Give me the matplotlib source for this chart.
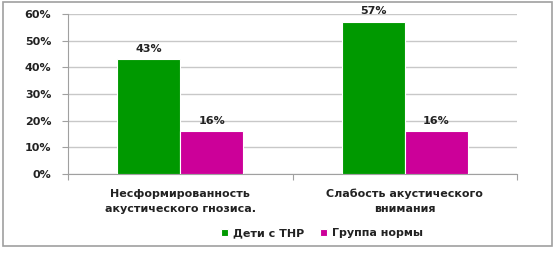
import matplotlib
matplotlib.use("Agg")
import matplotlib.pyplot as plt
from matplotlib.patches import Rectangle
import numpy as np

# данные
categories = ["Несформированность\nакустического гнозиса.", "Слабость акустического\nвнимания"]
series_names = ["Дети с ТНР", "Группа нормы"]
thr_values = [43, 57]
norm_values = [16, 16]
colors = ["#009900", "#cc0099"]

plt.rcParams['font.family'] = ['DejaVu Sans']

fig = plt.figure(figsize=(5.58, 2.58), dpi=100)
# рамка вокруг диаграммы
fig.patches.append(Rectangle((3 / 558, 12 / 258), 549 / 558, 244 / 258, transform=fig.transFigure,
                             fill=False, edgecolor="#a0a0a0", linewidth=1.2))
ax = fig.add_axes([68 / 558, 1 - 174 / 258, 449 / 558, 160 / 258])

x = np.arange(len(categories))
w = 0.28
b1 = ax.bar(x - w / 2, thr_values, w, color=colors[0], edgecolor="white", linewidth=0.8,
            label=series_names[0], zorder=3)
b2 = ax.bar(x + w / 2, norm_values, w, color=colors[1], edgecolor="white", linewidth=0.8,
            label=series_names[1], zorder=3)

for bars in (b1, b2):
    for r in bars:
        ax.text(r.get_x() + r.get_width() / 2, r.get_height() + 4.0, f"{r.get_height():.0f}%",
                ha="center", va="center", fontsize=8, fontweight="bold", color="#222222")

ax.set_xlim(-0.5, 1.5)
ax.set_ylim(0, 60)
ax.set_yticks(range(0, 61, 10))
ax.set_yticklabels([f"{v}%" for v in range(0, 61, 10)], fontsize=8, fontweight="bold", color="#222222")
ax.yaxis.grid(True, color="#c8c8c8", linewidth=1, zorder=0)
ax.set_xticks([-0.5, 0.5, 1.5])
ax.set_xticklabels([])
ax.tick_params(axis="x", length=4, color="#a0a0a0", direction="out")
ax.tick_params(axis="y", length=4, color="#a0a0a0", direction="out", pad=8)
for s in ["top", "right"]:
    ax.spines[s].set_visible(False)
ax.spines["left"].set_color("#a0a0a0")
ax.spines["bottom"].set_color("#a0a0a0")

for i, c in enumerate(categories):
    ax.text(i, -5.5, c, ha="center", va="top", fontsize=8, fontweight="bold", color="#222222",
            linespacing=1.65)

leg = fig.legend(handles=[b1, b2], loc="center", bbox_to_anchor=(322 / 558, 1 - 233 / 258), ncol=2,
                 frameon=False, handlelength=0.6, handleheight=0.6, columnspacing=1.5,
                 handletextpad=0.4, prop={"weight": "bold", "size": 8})
for t in leg.get_texts():
    t.set_color("#222222")

fig.savefig("out.png", dpi=100)
